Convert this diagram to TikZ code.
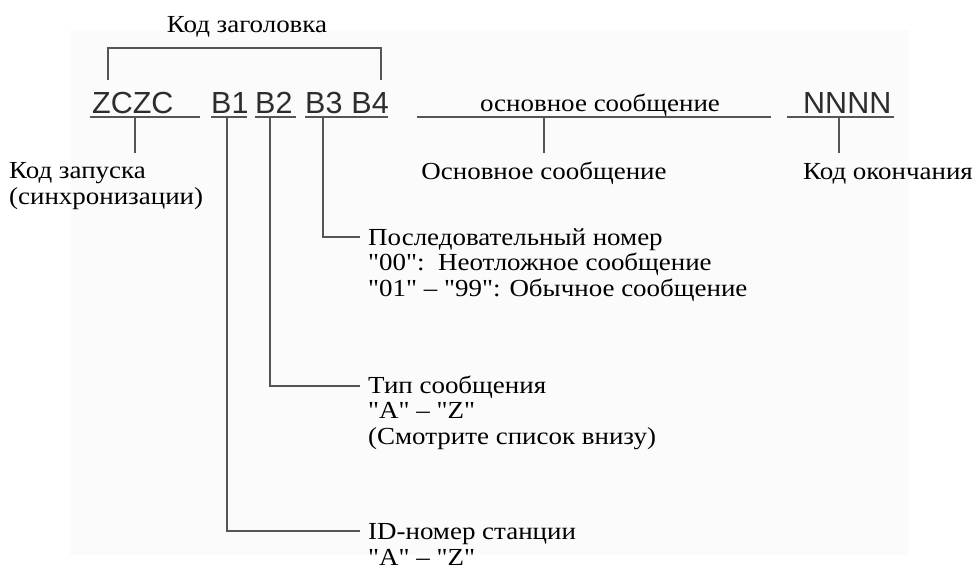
\documentclass[tikz,border=0pt]{standalone}
\usepackage{fontspec}
\setmainfont{Liberation Serif}[FakeStretch=1.1, Ligatures=TeXOff]
\newfontfamily\codefont{Liberation Sans}
\definecolor{bgcol}{RGB}{251,251,251}
\definecolor{lncol}{RGB}{85,85,85}
\definecolor{codecol}{RGB}{45,45,45}
\begin{document}
\begin{tikzpicture}[x=1pt,y=-1pt,
  ln/.style={draw=lncol, line width=1.3pt},
  lbl/.style={font=\fontsize{24.5}{25.5}\selectfont, inner sep=0pt, align=left, text=black},
  code/.style={font=\codefont\fontsize{30.5}{34}\selectfont, inner sep=0pt, text=codecol}]
\useasboundingbox (0,0) rectangle (976,571);
\fill[bgcol] (70,30) rectangle (909,555);

% header label and bracket
\node[lbl, anchor=base] (hdr) at (247,32) {Код заголовка};
\coordinate (brL) at (108,80);
\coordinate (brR) at (381,80);
\draw[ln] (brL) -- (108,48) -- (381,48) -- (brR);

% codes
\node[code, anchor=base west] (zczc) at (92,113) {ZCZC};
\node[code, anchor=base west] (b1) at (211,113) {B1};
\node[code, anchor=base west] (b2) at (255,113) {B2};
\node[code, anchor=base west] (b3) at (305,113) {B3};
\node[code, anchor=base west] (b4) at ([xshift=8.5pt]b3.base east) {B4};
\node[lbl, anchor=base] (msg) at (600,111) {основное сообщение};
\node[code, anchor=base west] (nnnn) at (803,113) {NNNN};

% underlines
\coordinate (u1a) at (90,117);  \coordinate (u1b) at (200,117);
\coordinate (u2a) at (211,117); \coordinate (u2b) at (247,117);
\coordinate (u3a) at (255,117); \coordinate (u3b) at (296,117);
\coordinate (u4a) at (305,117); \coordinate (u4b) at (388,117);
\coordinate (u5a) at (417,117); \coordinate (u5b) at (771,117);
\coordinate (u6a) at (787,117); \coordinate (u6b) at (894,117);
\foreach \a/\b in {u1a/u1b,u2a/u2b,u3a/u3b,u4a/u4b,u5a/u5b,u6a/u6b}
  \draw[ln] (\a) -- (\b);

% lower labels (base anchor = baseline of last line)
\node[lbl, anchor=base west] (start) at (9,204) {Код запуска\\(синхронизации)};
\node[lbl, anchor=base] (body) at (544,179) {Основное сообщение};
\node[lbl, anchor=base west] (endc) at (803,179) {Код окончания};
\node[lbl, anchor=base west] (seq) at (368,296) {Последовательный номер\\"00":\ \ Неотложное сообщение\\"01" – "99": Обычное сообщение};
\node[lbl, anchor=base west] (typ) at (368,444) {Тип сообщения\\"A" – "Z"\\(Смотрите список внизу)};
\node[lbl, anchor=base west] (sta) at (368,565) {ID-номер станции\\"A" – "Z"};

% connectors
\coordinate (seqL) at (360,237);
\coordinate (typL) at (360,386);
\coordinate (staL) at (360,531);
\draw[ln] (135,117) -- (135,153);
\draw[ln] (544,117) -- (544,153);
\draw[ln] (839,117) -- (839,153);
\draw[ln] (323,117) |- (seqL);
\draw[ln] (270,117) |- (typL);
\draw[ln] (227,117) |- (staL);
\end{tikzpicture}
\end{document}
